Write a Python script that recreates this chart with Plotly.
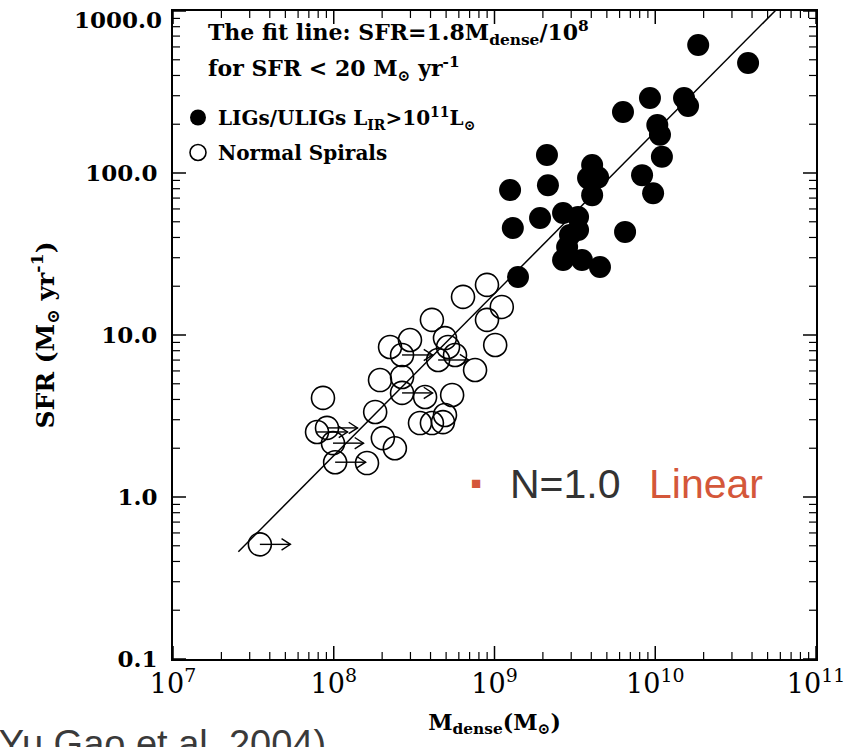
import numpy as np
import plotly.graph_objects as go

# ---- data ----
lig_mdense = [1.85e10, 3.78e10, 9.27e9, 1.51e10, 1.60e10, 6.3e9, 1.03e10, 1.07e10, 1.10e10,
              8.28e9, 9.7e9, 2.12e9, 4.05e9, 3.82e9, 4.41e9, 4.05e9, 1.25e9, 2.15e9,
              1.30e9, 1.92e9, 2.67e9, 3.31e9, 3.31e9, 2.83e9, 2.67e9, 3.5e9, 4.53e9,
              6.49e9, 1.40e9, 2.95e9]
lig_sfr = [617, 477, 290, 290, 259, 238, 198, 172, 126,
           97, 75, 129, 112, 93, 94, 73, 78.6, 84,
           45.7, 52.7, 56.6, 53.5, 44.5, 34.9, 29.0, 29.0, 26.3,
           43.3, 22.8, 41.4]

sp_mdense = [8.98e8, 6.37e8, 1.11e9, 8.98e8, 4.08e8, 1.01e9, 4.92e8, 5.14e8, 5.68e8,
             2.98e8, 2.24e8, 2.66e8, 4.46e8, 7.57e8, 1.94e8, 2.66e8, 2.66e8, 3.70e8,
             5.45e8, 8.57e7, 1.81e8, 4.92e8, 3.44e8, 4.08e8, 4.78e8, 9.08e7, 7.87e7,
             2.02e8, 9.89e7, 2.40e8, 1.02e8, 1.61e8, 3.47e7]
sp_sfr = [20.4, 17.2, 14.9, 12.4, 12.4, 8.67, 9.57, 8.43, 7.53,
          9.31, 8.43, 7.53, 7.01, 6.08, 5.27, 5.51, 4.39, 4.14,
          4.26, 4.09, 3.35, 3.21, 2.86, 2.86, 2.90, 2.67, 2.52,
          2.31, 2.15, 2.00, 1.64, 1.62, 0.51]
# lower limits in M_dense (drawn with right-pointing arrows)
sp_lowerlimit = [False, False, False, False, False, False, False, False, False,
                 False, False, True, True, False, False, False, True, False,
                 False, False, False, False, False, False, False, True, True,
                 False, True, False, True, False, True]

fit_mdense = [2.55e7, 1.0e11]
fit_coeff = 1.8  # SFR = 1.8 * M_dense / 1e8

x_range = [7, 11]      # log10 limits
y_range = [-1, 3]
x_tickvals = [1e7, 1e8, 1e9, 1e10, 1e11]
x_ticktext = ["10<sup>7</sup>", "10<sup>8</sup>", "10<sup>9</sup>", "10<sup>10</sup>", "10<sup>11</sup>"]
y_tickvals = [0.1, 1, 10, 100, 1000]
y_ticktext = ["<b>0.1</b>", "<b>1.0</b>", "<b>10.0</b>", "<b>100.0</b>", "<b>1000.0</b>"]
x_minor = [k * 10 ** e for e in range(7, 11) for k in range(2, 10)]
y_minor = [k * 10 ** e for e in range(-1, 3) for k in range(2, 10)]

SERIF = "DejaVu Serif"
SANS = "Liberation Sans, Arial, sans-serif"

W, H = 852, 747
ML, MR, MT, MB = 173, 36, 11, 88
PW, PH = W - ML - MR, H - MT - MB
px_per_dec_x = PW / (x_range[1] - x_range[0])
px_per_dec_y = PH / (y_range[1] - y_range[0])

fig = go.Figure()

fit_sfr = [fit_coeff * m / 1e8 for m in fit_mdense]
fig.add_trace(go.Scatter(x=fit_mdense, y=fit_sfr, mode="lines",
                         line=dict(color="black", width=1.5), showlegend=False, hoverinfo="skip"))

fig.add_trace(go.Scatter(x=lig_mdense, y=lig_sfr, mode="markers", legendgroup="a",
                         name="<b>LIGs/ULIGs L<sub>IR</sub>>10<sup>11</sup>L<sub>⊙</sub></b>",
                         marker=dict(symbol="circle", size=22, color="black",
                                     line=dict(color="black", width=0))))
fig.add_trace(go.Scatter(x=sp_mdense, y=sp_sfr, mode="markers", legendgroup="b",
                         name="<b>Normal Spirals</b>",
                         marker=dict(symbol="circle-open", size=23, color="black",
                                     line=dict(color="black", width=1.6))))

# arrows for lower limits: shaft + open V head, built in log space from the data
arr_len, barb_dx, barb_dy = 0.19, 0.055, 0.035
ax_, ay_ = [], []
for m, s, lim in zip(sp_mdense, sp_sfr, sp_lowerlimit):
    if lim:
        lm, ls = np.log10(m), np.log10(s)
        hx = lm + arr_len
        ax_ += [10 ** lm, 10 ** hx, None,
                10 ** (hx - barb_dx), 10 ** hx, 10 ** (hx - barb_dx), None]
        ay_ += [10 ** ls, 10 ** ls, None,
                10 ** (ls + barb_dy), 10 ** ls, 10 ** (ls - barb_dy), None]
fig.add_trace(go.Scatter(x=ax_, y=ay_, mode="lines", line=dict(color="black", width=1.4),
                         showlegend=False, hoverinfo="skip", connectgaps=False))

# inward tick marks on all four sides (IDL style), derived from the tick arrays
def tick_segments(vals, length_px):
    tx, ty = [], []
    dy = length_px / px_per_dec_y
    dx = length_px / px_per_dec_x
    ylo, yhi = 10 ** y_range[0], 10 ** y_range[1]
    xlo, xhi = 10 ** x_range[0], 10 ** x_range[1]
    for v in vals[0]:
        tx += [v, v, None, v, v, None]
        ty += [ylo, ylo * 10 ** dy, None, yhi, yhi / 10 ** dy, None]
    for v in vals[1]:
        tx += [xlo, xlo * 10 ** dx, None, xhi, xhi / 10 ** dx, None]
        ty += [v, v, None, v, v, None]
    return tx, ty

for vals, L, w in [((x_tickvals, y_tickvals), 13, 1.5), ((x_minor, y_minor), 7, 1.2)]:
    tx, ty = tick_segments(vals, L)
    fig.add_trace(go.Scatter(x=tx, y=ty, mode="lines", line=dict(color="black", width=w),
                             showlegend=False, hoverinfo="skip", connectgaps=False))

# fit text
fig.add_annotation(xref="paper", yref="paper", x=(206 - ML) / PW, y=(659 - 33) / PH,
                   xanchor="left", yanchor="middle", showarrow=False, align="left",
                   text="<b>The fit line: SFR=1.8M<sub>dense</sub>/10<sup>8</sup></b>",
                   font=dict(family=SERIF, size=22, color="black"))
fig.add_annotation(xref="paper", yref="paper", x=(206 - ML) / PW, y=(659 - 69) / PH,
                   xanchor="left", yanchor="middle", showarrow=False, align="left",
                   text="<b>for SFR < 20 M<sub>⊙</sub> yr<sup>-1</sup></b>",
                   font=dict(family=SERIF, size=22, color="black"))

# top y label nudged down so it stays on the page (as in the original)
fig.add_annotation(xref="paper", yref="paper", x=(164 - ML) / PW, y=(659 - 20) / PH,
                   xanchor="right", yanchor="middle", showarrow=False,
                   text=y_ticktext[-1], font=dict(family=SERIF, size=23, color="black"))

# N=1.0 Linear
fig.add_annotation(xref="paper", yref="paper", x=(476 - ML) / PW, y=(659 - 483) / PH,
                   xanchor="center", yanchor="middle", showarrow=False,
                   text="■", font=dict(family=SANS, size=17, color="#d4573a"))
fig.add_annotation(xref="paper", yref="paper", x=(508 - ML) / PW, y=(659 - 484) / PH,
                   xanchor="left", yanchor="middle", showarrow=False,
                   text="N=1.0", font=dict(family=SANS, size=41, color="#333333"))
fig.add_annotation(xref="paper", yref="paper", x=(647 - ML) / PW, y=(659 - 484) / PH,
                   xanchor="left", yanchor="middle", showarrow=False,
                   text="Linear", font=dict(family=SANS, size=41, color="#d4573a"))

# citation (partly cut off at the page edge, as in the original)
fig.add_annotation(xref="paper", yref="paper", x=(-16 - ML) / PW, y=(659 - 744) / PH,
                   xanchor="left", yanchor="middle", showarrow=False,
                   text="(Yu Gao et al. 2004)", font=dict(family=SANS, size=38, color="#3a3a3a"))

fig.update_xaxes(type="log", range=x_range, showline=True, linecolor="black", linewidth=2,
                 mirror=True, ticks="", showgrid=False, zeroline=False, tickmode="array",
                 automargin=False, tickvals=x_tickvals, ticktext=x_ticktext,
                 ticklabeloverflow="allow",
                 tickfont=dict(family=SERIF, size=27, color="black"),
                 title=dict(text="<b>M<sub>dense</sub>(M<sub>⊙</sub>)</b>",
                            font=dict(family=SERIF, size=22, color="black"), standoff=16))
fig.update_yaxes(type="log", range=y_range, showline=True, linecolor="black", linewidth=2,
                 mirror=True, ticks="", showgrid=False, zeroline=False, tickmode="array",
                 automargin=False, tickvals=y_tickvals[:-1], ticktext=y_ticktext[:-1],
                 ticklabeloverflow="allow",
                 tickfont=dict(family=SERIF, size=23, color="black"),
                 ticklabelstandoff=9,
                 title=dict(text="<b>SFR (M<sub>⊙</sub> yr<sup>-1</sup>)</b>",
                            font=dict(family=SERIF, size=25, color="black"), standoff=24))

fig.update_layout(
    width=W, height=H, margin=dict(l=ML, r=MR, t=MT, b=MB),
    plot_bgcolor="white", paper_bgcolor="white",
    legend=dict(x=(178 - ML) / PW, y=(659 - 98) / PH, xanchor="left", yanchor="top",
                bgcolor="rgba(0,0,0,0)", font=dict(family=SERIF, size=20, color="black"),
                itemsizing="trace", tracegroupgap=6, traceorder="grouped"))

fig.write_html("out.html")
